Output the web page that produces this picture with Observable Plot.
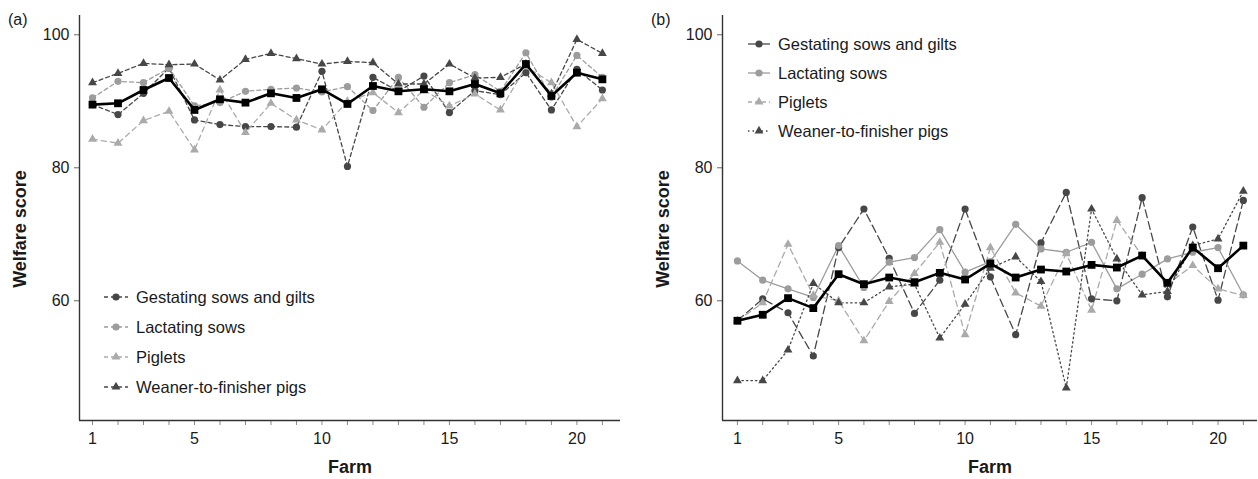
<!DOCTYPE html>
<html><head><meta charset="utf-8">
<script src="https://cdn.jsdelivr.net/npm/d3@7"></script>
<script src="https://cdn.jsdelivr.net/npm/@observablehq/plot@0.6"></script>
<style>
body{margin:0;background:#fff;font-family:"Liberation Sans",Arial,sans-serif;}
#wrap{position:relative;width:1258px;height:479px;overflow:hidden;background:#fff;}
.panel{position:absolute;top:0;}
.txt{position:absolute;color:#1a1a1a;white-space:nowrap;line-height:1;}
.tag{font-size:16px;}
.xt{font-size:18px;font-weight:bold;transform:translate(-50%,-50%);}
.yt{font-size:18px;font-weight:bold;transform:translate(-50%,-50%) rotate(-90deg);}
.leg{position:absolute;}
</style></head>
<body><div id="wrap"></div>
<script>
const farms = [1,2,3,4,5,6,7,8,9,10,11,12,13,14,15,16,17,18,19,20,21];
const farmTickLabels = [1,5,10,15,20];
const yTicks = [60,80,100];
const seriesNames = ["Gestating sows and gilts","Lactating sows","Piglets","Weaner-to-finisher pigs"];

// Panel (a)
const gestA = [89.5,88.0,91.2,95.0,87.2,86.5,86.2,86.2,86.1,94.5,80.2,93.6,91.5,93.8,88.3,91.6,91.0,94.3,88.7,94.8,91.7];
const lactA = [90.5,93.0,92.8,95.0,89.3,89.8,91.5,91.8,92.0,91.4,92.2,88.6,93.6,89.1,92.8,94.0,91.5,97.3,90.6,96.9,93.6];
const pigA  = [84.3,83.7,87.1,88.5,82.7,91.7,85.3,89.7,87.2,85.7,90.0,91.3,88.3,91.7,89.3,91.1,88.7,95.2,92.8,86.2,90.4];
const weanA = [92.8,94.2,95.7,95.5,95.6,93.2,96.3,97.2,96.4,95.6,96.0,95.8,92.6,92.6,95.6,93.5,93.6,95.6,91.1,99.3,97.2];
const meanA = [89.5,89.7,91.7,93.5,88.7,90.3,89.8,91.2,90.5,91.8,89.6,92.3,91.5,91.8,91.5,92.6,91.2,95.6,90.8,94.3,93.3];

// Panel (b)
const gestB = [57.0,60.3,58.2,51.7,68.0,73.8,66.4,58.1,63.1,73.8,63.6,54.9,68.7,76.3,60.3,60.0,75.5,60.6,71.1,60.1,75.1];
const lactB = [66.0,63.1,61.8,60.5,68.3,62.0,65.8,66.5,70.7,64.3,65.9,71.5,67.8,67.3,68.8,61.8,64.0,66.3,67.3,68.0,60.9];
const pigB  = [57.0,59.7,68.5,60.8,60.0,54.0,59.9,64.1,68.8,54.9,68.0,61.2,59.2,67.1,58.6,72.1,66.8,62.5,65.3,61.8,60.8];
const weanB = [48.0,48.0,52.6,62.6,59.7,59.7,62.1,62.5,54.4,59.5,64.9,66.6,62.9,46.9,73.8,66.3,60.9,61.4,68.3,69.3,76.5];
const meanB = [57.0,57.9,60.4,58.9,64.0,62.5,63.5,62.8,64.2,63.2,65.6,63.5,64.7,64.4,65.4,65.0,66.8,62.7,68.0,64.9,68.3];

const DARK = "#474747", LIGHT = "#9c9c9c", LIGHTER = "#aaaaaa";
const rows = vals => farms.map((f,i)=>({farm:f, value:vals[i]}));

function styles(panel){
  const dashA = {gest:"4,3", lact:"4,3", pig:"5,4", wean:"4,3"};
  const dashB = {gest:"8,4", lact:null, pig:"6,4", wean:"1.5,3"};
  const d = panel === "a" ? dashA : dashB;
  return [
    {name:seriesNames[0], key:"gest", stroke:DARK, fill:DARK, symbol:"circle", r:3.6, dash:d.gest},
    {name:seriesNames[1], key:"lact", stroke:LIGHT, fill:LIGHT, symbol:"circle", r:3.6, dash:d.lact},
    {name:seriesNames[2], key:"pig", stroke:LIGHTER, fill:LIGHTER, symbol:"triangle", r:3.3, dash:d.pig},
    {name:seriesNames[3], key:"wean", stroke:DARK, fill:DARK, symbol:"triangle", r:3.3, dash:d.wean}
  ];
}

function makePanel({data, mean, panel, width, marginLeft, marginRight, xDomain}){
  const st = styles(panel);
  const yDomain = [42, 102.9];
  const marks = [
    Plot.axisY({ticks:yTicks, tickSize:5, tickPadding:5, stroke:"#666", fill:"#1a1a1a", label:null}),
    Plot.axisX({ticks:farms, tickSize:5, tickPadding:7, stroke:"#8a8a8a", fill:"#1a1a1a", label:null,
      tickFormat: d => farmTickLabels.includes(d) ? String(d) : ""}),
    Plot.ruleX([xDomain[0]], {stroke:"#333", strokeWidth:1.4}),
    Plot.ruleY([yDomain[0]], {stroke:"#333", strokeWidth:1.4})
  ];
  st.forEach((s,i)=>{
    const r = rows(data[i]);
    const lineOpts = {x:"farm", y:"value", stroke:s.stroke, strokeWidth:1.3};
    if (s.dash) lineOpts.strokeDasharray = s.dash;
    marks.push(Plot.line(r, lineOpts));
  });
  st.forEach((s,i)=>{
    marks.push(Plot.dot(rows(data[i]), {x:"farm", y:"value", symbol:s.symbol, r:s.r, fill:s.fill, stroke:"none"}));
  });
  marks.push(Plot.line(rows(mean), {x:"farm", y:"value", stroke:"#000", strokeWidth:2.6}));
  marks.push(Plot.dot(rows(mean), {x:"farm", y:"value", symbol:"square", r:4.4, fill:"#000", stroke:"none"}));
  return Plot.plot({
    width, height:479, marginLeft, marginRight, marginTop:15, marginBottom:59,
    x:{domain:xDomain}, y:{domain:yDomain},
    style:{fontFamily:"'Liberation Sans', Arial, sans-serif", fontSize:"16px", background:"transparent", overflow:"visible"},
    marks
  });
}

function legend(panel, left, top, gap, lineW){
  const st = styles(panel);
  const w = 300, h = gap*4 + 10;
  const svg = d3.create("svg").attr("width", w).attr("height", h).attr("class","leg")
    .style("left", left+"px").style("top", top+"px");
  st.forEach((s,i)=>{
    const cy = 8 + i*gap;
    const g = svg.append("g").attr("transform", `translate(0,${cy})`);
    const lineColor = s.stroke;
    const ln = g.append("line").attr("x1",0).attr("x2",lineW).attr("y1",0).attr("y2",0)
      .attr("stroke", lineColor).attr("stroke-width",1.3);
    if (panel === "a") ln.attr("stroke-dasharray","4,3");
    else if (s.key === "pig") ln.attr("stroke-dasharray","4,3");
    else if (s.key === "wean") ln.attr("stroke-dasharray","1.5,3");
    const sym = s.symbol === "circle" ? d3.symbolCircle : d3.symbolTriangle;
    g.append("path").attr("d", d3.symbol(sym, Math.PI*s.r*s.r)()).attr("transform",`translate(${lineW/2},0)`).attr("fill", s.fill);
    g.append("text").attr("x", lineW + 8).attr("y", 0).attr("dy","0.35em")
      .attr("font-family","'Liberation Sans', Arial, sans-serif").attr("font-size", "16.5px").attr("fill","#1a1a1a")
      .text(s.name);
  });
  return svg.node();
}

const wrap = document.getElementById("wrap");
const pa = makePanel({data:[gestA,lactA,pigA,weanA], mean:meanA, panel:"a", width:640, marginLeft:79, marginRight:20, xDomain:[0.49,21.71]});
pa.classList.add("panel"); pa.style.left = "0px";
wrap.appendChild(pa);
const pb = makePanel({data:[gestB,lactB,pigB,weanB], mean:meanB, panel:"b", width:618, marginLeft:82, marginRight:1, xDomain:[0.41,21.56]});
pb.classList.add("panel"); pb.style.left = "640px";
wrap.appendChild(pb);

function addText(cls, html, x, y){
  const d = document.createElement("div");
  d.className = "txt " + cls; d.textContent = html;
  d.style.left = x+"px"; d.style.top = y+"px";
  wrap.appendChild(d);
}
addText("tag","(a)",8,12);
addText("tag","(b)",651,12);
addText("xt","Farm",350,467);
addText("xt","Farm",990,467);
addText("yt","Welfare score",20,229);
addText("yt","Welfare score",663,229);

wrap.appendChild(legend("a", 104, 289, 30, 24));
wrap.appendChild(legend("b", 748, 36, 29, 22));
</script></body></html>
